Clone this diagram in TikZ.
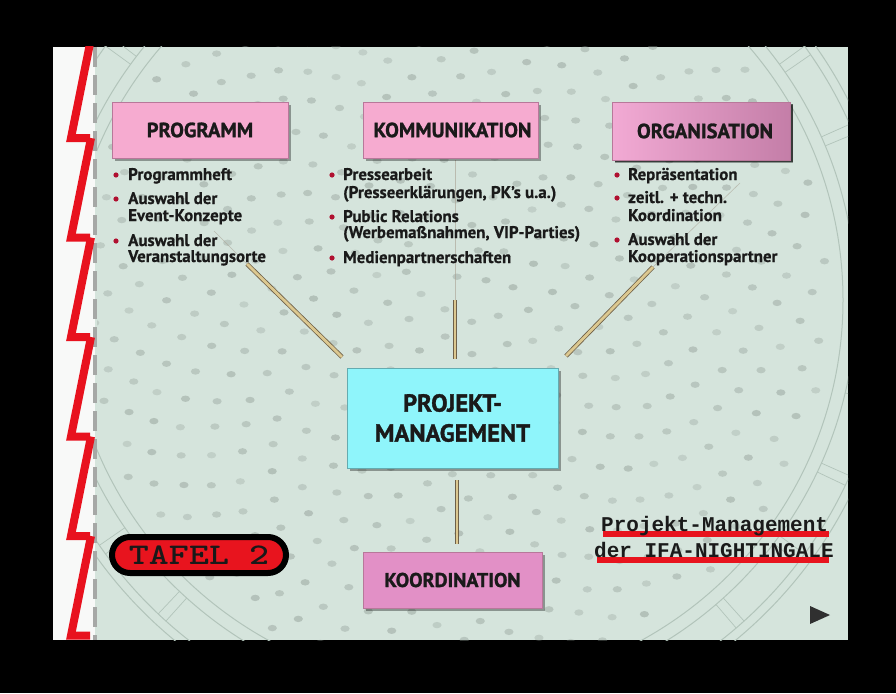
\documentclass[tikz,border=0pt]{standalone}
\usepackage{fontspec}
\setmainfont{PT Sans}
\newfontfamily\heavysans{PT Sans}[BoldFeatures={FakeBold=1.3}]
\newfontfamily\itemsans{PT Sans}[BoldFeatures={FakeBold=0.6}]
\newfontfamily\monofont{Liberation Mono}
\usetikzlibrary{calc,shadows}
\definecolor{slidebg}{HTML}{D5E4DC}
\definecolor{stripw}{HTML}{F8F9F8}
\definecolor{zigred}{HTML}{E8121E}
\definecolor{dashgray}{HTML}{A6A8A6}
\definecolor{ringc}{HTML}{B2C4BA}
\definecolor{dotc}{HTML}{8A968F}
\definecolor{pinkA}{HTML}{F6ABD0}
\definecolor{pinkedge}{HTML}{B8789A}
\definecolor{orgL}{HTML}{F2AAD4}
\definecolor{orgR}{HTML}{C47EA8}
\definecolor{pmcyan}{HTML}{8FF5FB}
\definecolor{koordc}{HTML}{E290C6}
\definecolor{bulletred}{HTML}{B01030}
\definecolor{conntan}{HTML}{DCC890}
\definecolor{connedge}{HTML}{6E6048}
\definecolor{inkc}{HTML}{1A1A1A}
\definecolor{pillred}{HTML}{E8141E}
\definecolor{playc}{HTML}{303030}
\tikzset{
  titlebox/.style={rectangle, draw=pinkedge, line width=0.8, inner sep=0, text=inkc,
    font=\heavysans\fontsize{20.5}{20.5}\selectfont\bfseries,
    drop shadow={shadow xshift=3pt, shadow yshift=-3pt, fill=black, opacity=0.35}},
  item/.style={anchor=base west, inner sep=0, text=inkc, font=\itemsans\fontsize{16.9}{16.9}\selectfont\bfseries},
  bullet/.style={fill=bulletred},
  conn/.style={draw=connedge, line width=0.8, double=conntan, double distance=2.8},
  thinconn/.style={draw=connedge!60, line width=0.6, opacity=0.6},
  ring/.style={draw=ringc, line width=1},
  brtext/.style={anchor=base west, inner sep=0, text=inkc, font=\monofont\bfseries\fontsize{21}{21}\selectfont},
}
\begin{document}
\begin{tikzpicture}[x=1pt,y=-1pt]
\useasboundingbox (0,0) rectangle (896,693);
\fill[black] (0,0) rectangle (896,693);
\begin{scope}
  \clip (53,47) rectangle (848,640);
  \fill[stripw] (53,47) rectangle (95,640);
  \fill[slidebg] (95,47) rectangle (848,640);
  \begin{scope}
    \clip (97,47) rectangle (848,640);
    % texture blotches
    \pgfmathsetseed{3}
    \foreach \k in {1,...,520} {
      \pgfmathsetmacro\myrad{16.5*sqrt(\k)+rand*3}
      \pgfmathsetmacro\myang{mod(int(\k/100)*70.8 + mod(\k,100)*137.508, 360)}
      \pgfmathsetmacro\myop{0.25+0.2*rnd}
      \fill[dotc, opacity=\myop] ($(455,300)+(\myang:\myrad)$) ellipse[x radius=4.6, y radius=3.2];
    }
    % rings
    \foreach \r in {388,401,432,441} \draw[ring] (455,300) circle[radius=\r];
    \foreach \a in {-180,-168,...,180} {
      \draw[ring, line width=0.7] ($(455,300)+(\a:401)$) -- ($(455,300)+(\a:432)$);
      \draw[ring, line width=0.7] ($(455,300)+(\a+1.4:401)$) -- ($(455,300)+(\a+1.4:432)$);
    }
  \end{scope}
  % dashed gray line
  \draw[dashgray, line width=4.5, dash pattern=on 20 off 8] (95,47) -- (95,640);
  % red zigzag
  \foreach \f [count=\i] in {138,237.5,337,436.5,536,635.5} {
    \pgfmathsetmacro\prev{\f-99.5}
    \draw[zigred, line width=8, line join=miter] (91,\prev) -- (71,\f) -- (90,\f);
  }
\end{scope}

% connectors
\coordinate (cl0) at (214,231);
\coordinate (cl1) at (247,264);
\coordinate (cl2) at (342,357);
\coordinate (cc0) at (455,160);
\coordinate (cc1) at (455,300);
\coordinate (cc2) at (455,359);
\coordinate (cr0) at (740,183);
\coordinate (cr1) at (653,267);
\coordinate (cr2) at (566,356);
\coordinate (cb1) at (457,480);
\coordinate (cb2) at (457,544);
\draw[thinconn] (cl0) -- (cl1);
\draw[thinconn] (cc0) -- (cc1);
\draw[thinconn] (cr0) -- (cr1);
\draw[conn] (cl1) -- (cl2);
\draw[conn] (cc1) -- (cc2);
\draw[conn] (cr1) -- (cr2);
\draw[conn] (cb1) -- (cb2);

% boxes
\node[titlebox, fill=pinkA, minimum width=176, minimum height=56] (prog) at (200,130) {PROGRAMM};
\node[titlebox, fill=pinkA, minimum width=175, minimum height=56] (kom) at (450.5,130) {\hspace*{4pt}KOMMUNIKATION};
\node[titlebox, left color=orgL, right color=orgR, minimum width=178, minimum height=58,
  drop shadow={shadow xshift=3pt, shadow yshift=-2pt, fill=black, opacity=0.6}] (org) at (701,131) {\hspace*{8pt}ORGANISATION};
\node[titlebox, fill=pmcyan, draw=pmcyan!70!black, minimum width=211, minimum height=100,
  align=center, font=\heavysans\fontsize{24.6}{30}\selectfont\bfseries] (pm) at (452.5,418) {PROJEKT-\\MANAGEMENT};
\node[titlebox, fill=koordc, font=\heavysans\fontsize{20}{20}\selectfont\bfseries, minimum width=179, minimum height=56] (koord) at (452.5,580) {KOORDINATION};

% lists
\node[item] (p1) at (128,180) {Programmheft};
\node[item] (p2) at (128,204) {Auswahl der};
\node[item] (p3) at (128,221) {Event-Konzepte};
\node[item] (p4) at (128,246) {Auswahl der};
\node[item] (p5) at (128,262) {Veranstaltungsorte};
\foreach \y in {175,199,241} \fill[bullet] (116,\y) circle[radius=2.6];

\node[item] (k1) at (343,180) {Pressearbeit};
\node[item] (k2) at (343,198) {(Presseerklärungen, PK’s u.a.)};
\node[item] (k3) at (343,222) {Public Relations};
\node[item] (k4) at (343,238) {(Werbemaßnahmen, VIP-Parties)};
\node[item] (k5) at (343,263) {Medienpartnerschaften};
\foreach \y in {175,217,258} \fill[bullet] (332,\y) circle[radius=2.6];

\node[item] (o1) at (628,180) {Repräsentation};
\node[item] (o2) at (628,203) {zeitl. + techn.};
\node[item] (o3) at (628,221) {Koordination};
\node[item] (o4) at (628,245) {Auswahl der};
\node[item] (o5) at (628,262) {Kooperationspartner};
\foreach \y in {175,198,240} \fill[bullet] (617,\y) circle[radius=2.6];

% TAFEL 2
\node[rectangle, rounded corners=18, draw=black, line width=6, fill=pillred,
  minimum width=174, minimum height=36, inner sep=0, text=black!90,
  font=\ttfamily\bfseries\fontsize{30}{30}\selectfont] (tafel) at (199,555) {\scalebox{1.27}[1]{TAFEL 2}};

% bottom right title
\fill[pillred] (603,531) rectangle (829,537);
\fill[pillred] (597,557) rectangle (829,563);
\node[brtext] (br1) at (601,531) {Projekt-Management};
\node[brtext] (br2) at (594,557) {der IFA-NIGHTINGALE};

% play triangle
\fill[playc] (810,606) -- (810,624) -- (830,615) -- cycle;
\end{tikzpicture}
\end{document}
